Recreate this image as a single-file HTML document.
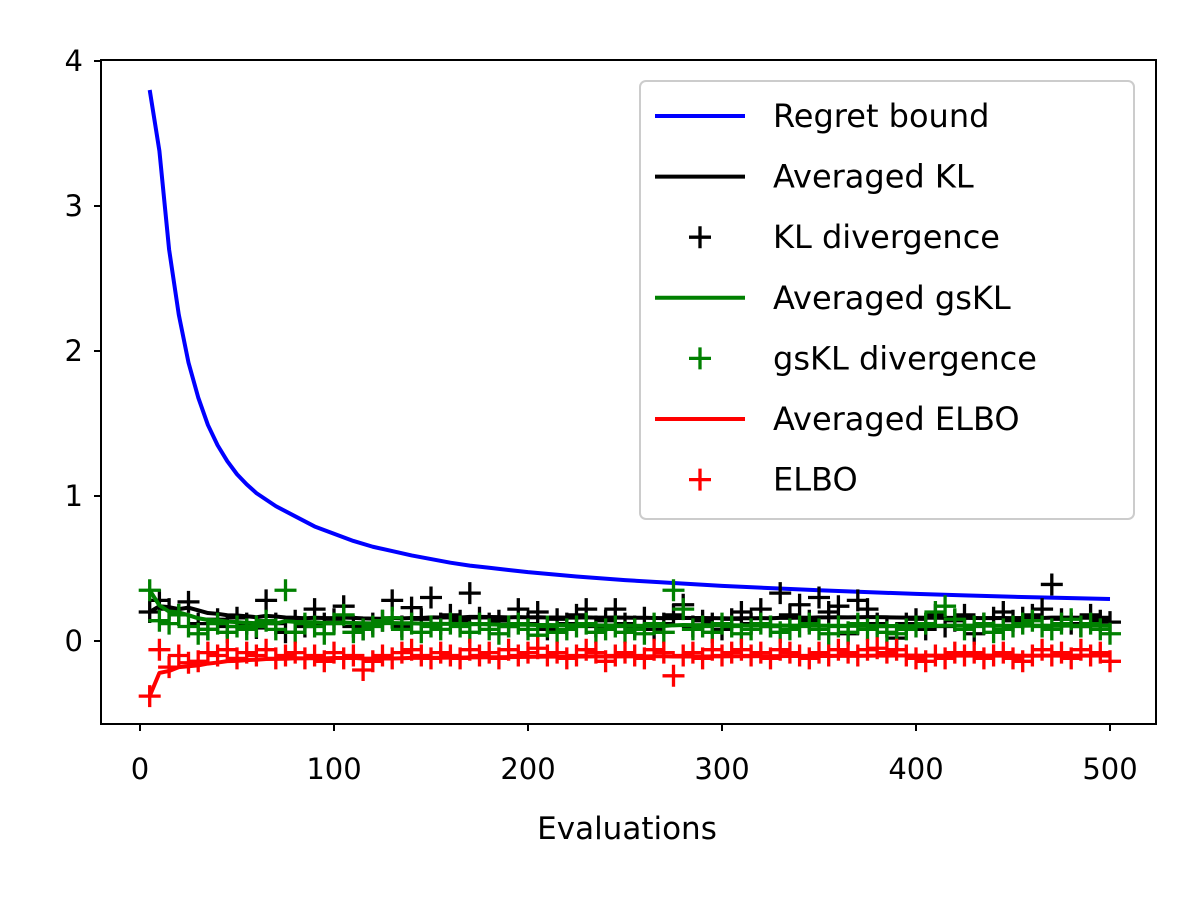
<!DOCTYPE html>
<html><head><meta charset="utf-8"><style>body{margin:0;background:#fff}svg{display:block;font-family:"DejaVu Sans","Liberation Sans",sans-serif}</style></head>
<body>
<svg id="c" width="1200" height="900" xmlns="http://www.w3.org/2000/svg"></svg>
<script>
const regretX=[5,10,15,20,25,30,35,40,45,50,55,60,70,80,90,100,110,120,130,140,150,160,170,180,190,200,225,250,275,300,325,350,375,400,425,450,475,500];
const regretY=[3.8,3.38,2.7,2.25,1.92,1.68,1.49,1.35,1.24,1.15,1.08,1.02,0.93,0.86,0.79,0.74,0.69,0.65,0.62,0.59,0.565,0.54,0.52,0.505,0.49,0.475,0.445,0.42,0.4,0.38,0.365,0.35,0.337,0.325,0.315,0.305,0.297,0.29];
const klVals=[0.20,0.28,0.22,0.18,0.27,0.12,0.08,0.15,0.10,0.16,0.12,0.09,0.28,0.12,0.06,0.14,0.10,0.22,0.12,0.15,
0.24,0.10,0.08,0.12,0.14,0.28,0.10,0.23,0.15,0.30,0.12,0.18,0.14,0.33,0.16,0.12,0.14,0.10,0.22,0.12,
0.20,0.08,0.15,0.12,0.18,0.22,0.10,0.14,0.22,0.12,0.10,0.16,0.08,0.12,0.18,0.25,0.10,0.14,0.12,0.08,
0.15,0.20,0.12,0.22,0.10,0.33,0.18,0.25,0.14,0.30,0.20,0.24,0.05,0.28,0.22,0.12,0.10,0.02,0.12,0.15,
0.08,0.18,0.10,0.14,0.18,0.05,0.12,0.16,0.20,0.14,0.16,0.18,0.22,0.39,0.15,0.12,0.10,0.18,0.14,0.13];
const gsklVals=[0.35,0.14,0.12,0.18,0.10,0.05,0.08,0.12,0.06,0.10,0.08,0.10,0.14,0.08,0.35,0.06,0.12,0.10,0.05,0.12,
0.18,0.06,0.08,0.10,0.14,0.16,0.08,0.12,0.06,0.10,0.08,0.12,0.10,0.06,0.12,0.08,0.05,0.10,0.12,0.08,
0.04,0.10,0.06,0.08,0.10,0.12,0.06,0.08,0.10,0.06,0.08,0.05,0.12,0.06,0.35,0.22,0.08,0.10,0.06,0.12,
0.10,0.05,0.08,0.12,0.10,0.06,0.08,0.10,0.12,0.08,0.05,0.10,0.06,0.12,0.08,0.10,0.06,0.05,0.08,0.10,
0.12,0.20,0.24,0.15,0.08,0.10,0.12,0.06,0.08,0.10,0.12,0.14,0.10,0.08,0.12,0.15,0.10,0.12,0.08,0.05];
const elboVals=[-0.38,-0.06,-0.18,-0.10,-0.15,-0.14,-0.08,-0.10,-0.06,-0.12,-0.08,-0.10,-0.06,-0.12,-0.10,-0.08,-0.12,-0.10,-0.14,-0.08,
-0.12,-0.10,-0.20,-0.14,-0.10,-0.12,-0.08,-0.06,-0.10,-0.12,-0.08,-0.10,-0.12,-0.06,-0.10,-0.08,-0.12,-0.06,-0.10,-0.08,
-0.05,-0.10,-0.08,-0.12,-0.10,-0.06,-0.08,-0.14,-0.10,-0.08,-0.10,-0.12,-0.06,-0.08,-0.24,-0.10,-0.08,-0.12,-0.06,-0.10,
-0.08,-0.06,-0.10,-0.08,-0.12,-0.06,-0.08,-0.10,-0.12,-0.08,-0.10,-0.06,-0.08,-0.10,-0.06,-0.05,-0.08,-0.06,-0.10,-0.12,
-0.14,-0.10,-0.12,-0.08,-0.10,-0.08,-0.12,-0.10,-0.08,-0.12,-0.14,-0.10,-0.06,-0.10,-0.08,-0.12,-0.06,-0.10,-0.08,-0.14];
const xTicks=[0,100,200,300,400,500];
const yTicks=[0,1,2,3,4];
const legendLabels=["Regret bound","Averaged KL","KL divergence","Averaged gsKL","gsKL divergence","Averaged ELBO","ELBO"];

const svg=document.getElementById('c');const NS='http://www.w3.org/2000/svg';
const L=101,R=1156,T=60,B=724;
const sx=v=>140+v*1.94, sy=v=>641-v*145;
function mk(tag,attrs,parent){const e=document.createElementNS(NS,tag);for(const k in attrs)e.setAttribute(k,attrs[k]);(parent||svg).appendChild(e);return e;}
const evals=klVals.map((_,i)=>5+5*i);
function runAvg(a){let s=0;return a.map((v,i)=>(s+=v)/(i+1));}
const plot=mk('g',{});


function line(xs,ys,color,name){const p=mk('polyline',{points:xs.map((x,i)=>sx(x)+','+sy(ys[i])).join(' '),fill:'none',stroke:color,'stroke-width':4,'stroke-linejoin':'round'},plot);

}
function pluses(vals,color,name){const g=mk('g',{stroke:color,'stroke-width':3.3},plot);


vals.forEach((v,i)=>{const x=sx(evals[i]),y=sy(v);mk('path',{d:`M${x-11},${y}H${x+11}M${x},${y-11}V${y+11}`},g);});}
line(regretX,regretY,'#0000ff','regret-bound-line');
pluses(klVals,'#000','kl-divergence-points');
line(evals,runAvg(klVals),'#000','averaged-kl-line');
pluses(gsklVals,'#008000','gskl-divergence-points');
line(evals,runAvg(gsklVals),'#008000','averaged-gskl-line');
pluses(elboVals,'#ff0000','elbo-points');
line(evals,runAvg(elboVals),'#ff0000','averaged-elbo-line');
const fr=mk('rect',{x:L,y:T,width:R-L,height:B-T,fill:'none',stroke:'#000','stroke-width':2});


xTicks.forEach(t=>{const x=sx(t);mk('line',{x1:x,x2:x,y1:B,y2:B+7,stroke:'#000','stroke-width':2});
const tx=mk('text',{x:x,y:779,'font-size':29,'text-anchor':'middle'});tx.textContent=t;

});
yTicks.forEach(t=>{const y=sy(t);mk('line',{x1:L-7,x2:L,y1:y,y2:y,stroke:'#000','stroke-width':2});
const tx=mk('text',{x:83,y:y+10,'font-size':29,'text-anchor':'end'});tx.textContent=t;

});
const xt=mk('text',{x:627,y:839,'font-size':31,'text-anchor':'middle'});xt.textContent='Evaluations';


const lg=mk('g',{});


mk('rect',{x:640,y:81,width:494,height:438,rx:6,fill:'#fff','fill-opacity':0.8,stroke:'#ccc','stroke-width':2},lg);
const lcol=['#0000ff','#000','#000','#008000','#008000','#ff0000','#ff0000'];
legendLabels.forEach((lab,i)=>{const y=116+i*60.6;
const e=mk('g',{},lg);


if(i==0||i%2==1)mk('line',{x1:655,x2:745,y1:y,y2:y,stroke:lcol[i],'stroke-width':4},e);
else mk('path',{d:`M689,${y}H711M700,${y-11}V${y+11}`,stroke:lcol[i],'stroke-width':3.3},e);
const t=mk('text',{x:773,y:y+11,'font-size':32},e);t.textContent=lab;});
</script>
</body></html>
